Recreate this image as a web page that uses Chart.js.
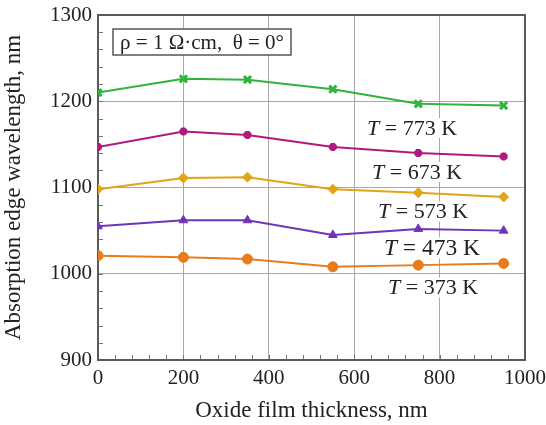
<!DOCTYPE html>
<html>
<head>
<meta charset="utf-8">
<script src="https://cdn.jsdelivr.net/npm/chart.js@4.4.1/dist/chart.umd.min.js"></script>
<style>
  html, body { margin: 0; padding: 0; background: #fff; }
  #wrap { width: 546px; height: 425px; position: relative; }
</style>
</head>
<body>
<div id="wrap"><canvas id="chart" width="546" height="425"></canvas></div>
<script>
// oxide film thickness, nm
const thickness = [0, 200, 350, 550, 750, 950];

// absorption edge wavelength, nm
const t773 = [1210, 1226, 1225, 1214, 1197, 1195];
const t673 = [1147, 1165, 1161, 1147, 1140, 1136];
const t573 = [1098, 1111, 1112, 1098, 1094, 1089];
const t473 = [1055, 1062, 1062, 1045, 1052, 1050];
const t373 = [1021, 1019, 1017, 1008, 1010, 1012];

const seriesNames = ["773", "673", "573", "473", "373"];
const xTicks = [0, 200, 400, 600, 800, 1000];
const yTicks = [900, 1000, 1100, 1200, 1300];
const noteText = "\u03C1 = 1 \u03A9\u00B7cm,  \u03B8 = 0\u00B0";

const serif = "'Liberation Serif', 'DejaVu Serif', serif";

function pts(ys) {
  return thickness.map((x, i) => ({ x: x, y: ys[i] }));
}

function ds(label, ys, color, style, r) {
  return {
    label: label,
    data: pts(ys),
    borderColor: color,
    backgroundColor: color,
    borderWidth: 2,
    pointStyle: style,
    pointRadius: r,
    pointBorderWidth: style === "crossRot" || style === "star" ? 3 : 1,
    tension: 0
  };
}

// where each T label sits: [x pixel, y value, font size]
const labelPlace = {
  "773": [412, 1169, 22],
  "673": [417, 1118, 22],
  "573": [423, 1072, 22],
  "473": [432, 1030, 23.5],
  "373": [433, 984, 22]
};

const decor = {
  id: "decor",
  beforeDatasetsDraw(chart) {
    const { ctx, chartArea: a, scales } = chart;
    const xs = scales.x, ys = scales.y;
    ctx.save();

    // minor ticks pointing inward
    ctx.strokeStyle = "#777";
    ctx.lineWidth = 1;
    for (let v = 0; v <= 1000; v += 40) {
      const px = Math.round(xs.getPixelForValue(v)) + 0.5;
      ctx.beginPath();
      ctx.moveTo(px, a.bottom);
      ctx.lineTo(px, a.bottom - 5);
      ctx.stroke();
    }
    for (let v = 900; v <= 1300; v += 20) {
      const py = Math.round(ys.getPixelForValue(v)) + 0.5;
      ctx.beginPath();
      ctx.moveTo(a.left, py);
      ctx.lineTo(a.left + 5, py);
      ctx.stroke();
    }

    // T labels with white backing
    seriesNames.forEach(name => {
      const [px, val, size] = labelPlace[name];
      const py = ys.getPixelForValue(val);
      const it = "italic " + size + "px " + serif;
      const rm = size + "px " + serif;
      ctx.font = it;
      const w1 = ctx.measureText("T").width;
      ctx.font = rm;
      const rest = " = " + name + " K";
      const w2 = ctx.measureText(rest).width;
      const w = w1 + w2;
      const x0 = px - w / 2;
      ctx.fillStyle = "#fff";
      ctx.fillRect(x0 - 3, py - size * 0.45, w + 6, size * 0.9);
      ctx.fillStyle = "#222";
      ctx.textBaseline = "middle";
      ctx.textAlign = "left";
      ctx.font = it;
      ctx.fillText("T", x0, py + 1);
      ctx.font = rm;
      ctx.fillText(rest, x0 + w1, py + 1);
    });

    // frame
    ctx.strokeStyle = "#5a5a5a";
    ctx.lineWidth = 2;
    ctx.strokeRect(a.left, a.top, a.right - a.left, a.bottom - a.top);

    // note box
    ctx.fillStyle = "#fff";
    ctx.fillRect(113, 29, 178, 26);
    ctx.strokeStyle = "#555";
    ctx.lineWidth = 1.5;
    ctx.strokeRect(113, 29, 178, 26);
    ctx.fillStyle = "#222";
    ctx.font = "21px " + serif;
    ctx.textAlign = "center";
    ctx.textBaseline = "middle";
    ctx.fillText(noteText, 202, 43);
    ctx.restore();
  }
};

new Chart(document.getElementById("chart"), {
  type: "line",
  data: {
    datasets: [
      ds("T = 773 K", t773, "#30b43c", "crossRot", 5),
      ds("T = 673 K", t673, "#b0197e", "star", 4),
      ds("T = 573 K", t573, "#e2a514", "rectRot", 5),
      ds("T = 473 K", t473, "#7034b8", "triangle", 5),
      ds("T = 373 K", t373, "#e67c1e", "circle", 5)
    ]
  },
  options: {
    responsive: false,
    animation: false,
    layout: { padding: { top: 15, right: 21, left: 0, bottom: 0 } },
    plugins: { legend: { display: false }, tooltip: { enabled: false } },
    scales: {
      x: {
        type: "linear",
        min: 0,
        max: 1000,
        afterBuildTicks: s => { s.ticks = xTicks.map(v => ({ value: v })); },
        afterFit: s => { s.height = 65; s.paddingLeft = 0; s.paddingRight = 0; },
        grid: { color: "#a8a8a8", lineWidth: 1, drawTicks: false },
        border: { display: false },
        ticks: {
          font: { family: serif, size: 21 }, color: "#222", padding: 6, maxRotation: 0,
          callback: v => String(v)
        },
        title: {
          display: true,
          text: "Oxide film thickness, nm",
          font: { family: serif, size: 23 },
          color: "#222",
          padding: { top: 6, bottom: 0 }
        }
      },
      y: {
        min: 900,
        max: 1300,
        afterBuildTicks: s => { s.ticks = yTicks.map(v => ({ value: v })); },
        afterFit: s => { s.width = 98; s.paddingTop = 0; s.paddingBottom = 0; },
        grid: { color: "#a8a8a8", lineWidth: 1, drawTicks: false },
        border: { display: false },
        ticks: {
          font: { family: serif, size: 21 }, color: "#222", padding: 6,
          callback: v => String(v)
        },
        title: {
          display: true,
          text: "Absorption edge wavelength, nm",
          font: { family: serif, size: 23 },
          color: "#222",
          padding: { top: 0, bottom: 4 }
        }
      }
    }
  },
  plugins: [decor]
});
</script>
</body>
</html>
